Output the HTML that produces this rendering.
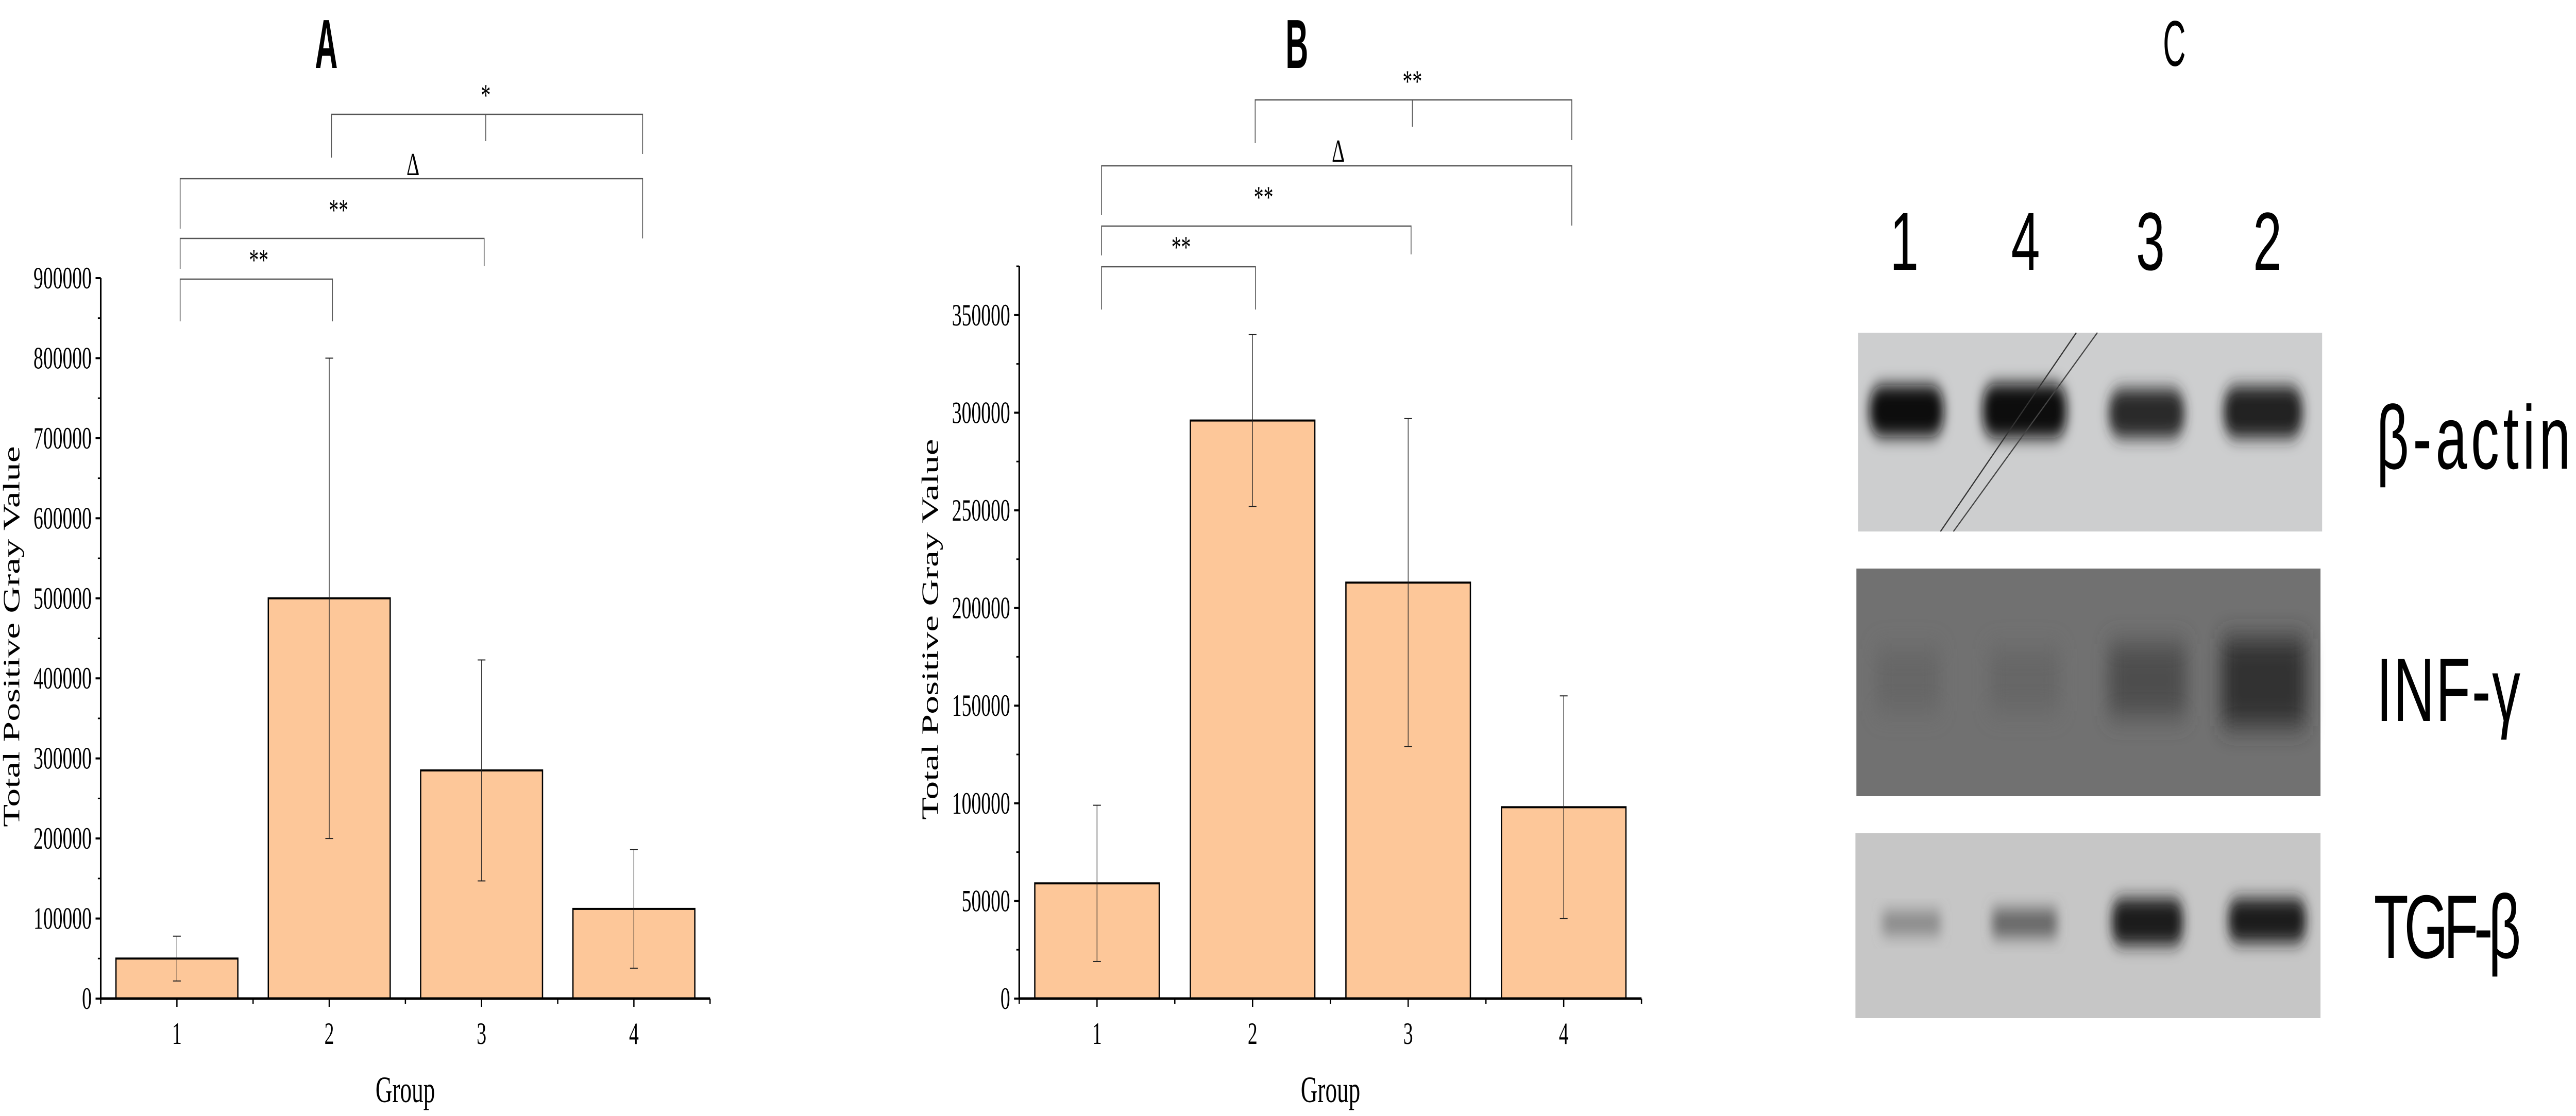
<!DOCTYPE html>
<html><head><meta charset="utf-8"><style>
html,body{margin:0;padding:0;background:#fff;width:7965px;height:2167px;overflow:hidden;}
svg{display:block;position:absolute;left:0;top:0;width:100vw;height:100vh;}
</style></head><body>
<svg id="fig" viewBox="0 0 7965 2167" preserveAspectRatio="none" xmlns="http://www.w3.org/2000/svg">
<defs>
<filter id="blur1" x="-30%" y="-60%" width="160%" height="220%"><feGaussianBlur stdDeviation="16"/></filter>
<filter id="blur2" x="-30%" y="-60%" width="160%" height="220%"><feGaussianBlur stdDeviation="26"/></filter>
</defs>
<g id="chartA"></g>
<g id="chartB"></g>
<g id="panelC">
  <text x="6723" y="128" font-family="Liberation Sans, sans-serif" font-size="125" text-anchor="middle" transform="translate(6723 0) scale(0.78 1) translate(-6723 0)">C</text>
  <text x="5888" y="524" font-family="Liberation Sans, sans-serif" font-size="160" text-anchor="middle">1</text>
  <text x="6263" y="524" font-family="Liberation Sans, sans-serif" font-size="160" text-anchor="middle">4</text>
  <text x="6649" y="524" font-family="Liberation Sans, sans-serif" font-size="160" text-anchor="middle">3</text>
  <text x="7011" y="524" font-family="Liberation Sans, sans-serif" font-size="160" text-anchor="middle">2</text>

  <g>
    <rect x="5745" y="646" width="1435" height="386" fill="#cdcecf"/>
    <rect x="5780" y="748" width="230" height="100" rx="40" fill="#111" filter="url(#blur1)"/>
    <rect x="6130" y="745" width="260" height="105" rx="40" fill="#0e0e0e" filter="url(#blur1)"/>
    <rect x="6520" y="755" width="235" height="95" rx="40" fill="#2a2a2a" filter="url(#blur1)"/>
    <rect x="6875" y="750" width="245" height="100" rx="40" fill="#222" filter="url(#blur1)"/>
    <line x1="6000" y1="1032" x2="6420" y2="646" stroke="#333" stroke-width="3"/>
    <line x1="6040" y1="1032" x2="6485" y2="646" stroke="#444" stroke-width="3"/>
  </g>
  <g>
    <rect x="5740" y="1104" width="1435" height="442" fill="#717171"/>
    <rect x="5800" y="1260" width="200" height="120" fill="#666" filter="url(#blur2)"/>
    <rect x="6150" y="1260" width="220" height="120" fill="#666" filter="url(#blur2)"/>
    <rect x="6520" y="1250" width="240" height="140" fill="#4e4e4e" filter="url(#blur2)"/>
    <rect x="6870" y="1240" width="260" height="170" fill="#333" filter="url(#blur2)"/>
  </g>
  <g>
    <rect x="5737" y="1618" width="1438" height="359" fill="#c6c6c6"/>
    <rect x="5820" y="1770" width="180" height="45" fill="#888" filter="url(#blur1)"/>
    <rect x="6160" y="1765" width="200" height="55" fill="#666" filter="url(#blur1)"/>
    <rect x="6530" y="1745" width="220" height="90" rx="30" fill="#1a1a1a" filter="url(#blur1)"/>
    <rect x="6890" y="1745" width="240" height="85" rx="30" fill="#1a1a1a" filter="url(#blur1)"/>
  </g>
  <text x="7348" y="910" font-family="Liberation Sans, sans-serif" font-size="175" textLength="600" lengthAdjust="spacing">β-actin</text>
  <text x="7348" y="1400" font-family="Liberation Sans, sans-serif" font-size="175" textLength="445" lengthAdjust="spacing">INF-γ</text>
  <text x="7340" y="1860" font-family="Liberation Sans, sans-serif" font-size="175" textLength="455" lengthAdjust="spacing">TGF-β</text>
</g>
</svg>
<script>
const categoriesA = ["1","2","3","4"];
const valuesA = [50000, 500000, 285000, 112000];
const errorsA = [28000, 300000, 138000, 74000];
const yTicksA = [0,100000,200000,300000,400000,500000,600000,700000,800000,900000];
const categoriesB = ["1","2","3","4"];
const valuesB = [59000, 296000, 213000, 98000];
const errorsB = [40000, 44000, 84000, 57000];
const yTicksB = [0,50000,100000,150000,200000,250000,300000,350000];

const NS = "http://www.w3.org/2000/svg";
function mk(parent, tag, attrs){
  const e = document.createElementNS(NS, tag);
  for (const k in attrs) e.setAttribute(k, attrs[k]);
  parent.appendChild(e);
  return e;
}

function drawChart(g, cfg){
  const x = i => cfg.x1 + i*cfg.step;
  const y = v => cfg.y0 - (v/cfg.ymax)*(cfg.y0 - cfg.ytop);
  const xl = cfg.x1 - cfg.step/2, xr = cfg.x1 + (cfg.cats.length-0.5)*cfg.step;
  cfg.vals.forEach((v,i)=>{
    const bw = cfg.step*0.8;
    const r = mk(g,'rect',{x:x(i)-bw/2, y:y(v), width:bw, height:cfg.y0-y(v), fill:'#fdc799', stroke:'#000', 'stroke-width':4});
    
    
  });
  cfg.vals.forEach((v,i)=>{
    const e = cfg.errs[i];
    const eg = mk(g,'g',{stroke:'#222','stroke-width':2});
    
    
    mk(eg,'line',{x1:x(i),x2:x(i),y1:y(v+e),y2:y(v-e)});
    mk(eg,'line',{x1:x(i)-12,x2:x(i)+12,y1:y(v+e),y2:y(v+e)});
    mk(eg,'line',{x1:x(i)-12,x2:x(i)+12,y1:y(v-e),y2:y(v-e)});
  });
  const ax = mk(g,'g',{stroke:'#000','stroke-width':5});
  
  
  mk(ax,'line',{x1:xl,x2:xl,y1:cfg.ytop,y2:cfg.y0+2});
  mk(ax,'line',{x1:xl-2,x2:xr,y1:cfg.y0,y2:cfg.y0});
  cfg.yticks.forEach(t=>{
    mk(ax,'line',{x1:xl-16,x2:xl,y1:y(t),y2:y(t),'stroke-width':4});
    const h = t + cfg.minor;
    if (y(h) >= cfg.ytop - 1) mk(ax,'line',{x1:xl-9,x2:xl,y1:y(h),y2:y(h),'stroke-width':3});
    const lab = mk(g,'text',{x:xl-28,y:y(t)+20,'text-anchor':'end','font-family':'Liberation Serif, serif','font-size':60});
    lab.textContent = String(t);
    
    
  });
  for (let k=0;k<=cfg.cats.length*2;k++){
    const xx = xl + k*cfg.step/2;
    mk(ax,'line',{x1:xx,x2:xx,y1:cfg.y0,y2:cfg.y0+(k%2?16:10),'stroke-width':4});
  }
  cfg.cats.forEach((c,i)=>{
    const lab = mk(g,'text',{x:x(i),y:cfg.y0+88,'text-anchor':'middle','font-family':'Liberation Serif, serif','font-size':60});
    lab.textContent = c;
    
    
  });
  const xt = mk(g,'text',{x:cfg.groupX,y:2140,'text-anchor':'middle','font-family':'Liberation Serif, serif','font-size':72});
  xt.textContent = 'Group';
  
  
  const yt = mk(g,'text',{x:0,y:0,'text-anchor':'middle','font-family':'Liberation Serif, serif','font-size':72,transform:`translate(${cfg.ytX},${cfg.ytY}) rotate(-90)`});
  yt.textContent = 'Total Positive Gray Value';
  
  
  const tt = mk(g,'text',{x:0,y:0,'text-anchor':'middle','font-family':'Liberation Sans, sans-serif','font-weight':'bold','font-size':135,transform:`translate(${cfg.titleX},132) scale(0.72,1)`});
  tt.textContent = cfg.title;
  
  
  cfg.brackets.forEach(b=>{
    const bg = mk(g,'g',{stroke:'#555','stroke-width':2.5,fill:'none'});
    
    
    mk(bg,'polyline',{points:`${b.xa},${b.ya} ${b.xa},${b.y} ${b.xb},${b.y} ${b.xb},${b.yb}`});
    if (b.mid) mk(bg,'line',{x1:b.mid,x2:b.mid,y1:b.y,y2:b.y+52});
    const s = mk(g,'text',{x:b.tx,y:b.ty,'text-anchor':'middle','font-family':'Liberation Serif, serif','font-size':b.t==='Δ'?62:60});
    s.textContent = b.t;
    
    
  });
}

drawChart(document.getElementById('chartA'), {
  cats:categoriesA, vals:valuesA, errs:errorsA, yticks:yTicksA, minor:50000,
  x1:547, step:471, y0:1939, ytop:540, ymax:900000,
  groupX:1253, ytX:60, ytY:1236, titleX:1009, title:'A',
  brackets:[
    {xa:557,xb:1028,y:542,ya:624,yb:624,t:'**',tx:800,ty:525},
    {xa:557,xb:1497,y:463,ya:522,yb:517,t:'**',tx:1047,ty:428},
    {xa:557,xb:1987,y:347,ya:444,yb:463,t:'Δ',tx:1277,ty:340},
    {xa:1025,xb:1987,y:222,ya:306,yb:299,mid:1502,t:'*',tx:1502,ty:205}
  ]
});
drawChart(document.getElementById('chartB'), {
  cats:categoriesB, vals:valuesB, errs:errorsB, yticks:yTicksB, minor:25000,
  x1:3392, step:481, y0:1939, ytop:517, ymax:375000,
  groupX:4114, ytX:2900, ytY:1222, titleX:4010, title:'B',
  brackets:[
    {xa:3406,xb:3882,y:518,ya:601,yb:601,t:'**',tx:3652,ty:500},
    {xa:3406,xb:4363,y:439,ya:496,yb:494,t:'**',tx:3907,ty:403},
    {xa:3406,xb:4860,y:322,ya:417,yb:438,t:'Δ',tx:4138,ty:314},
    {xa:3881,xb:4860,y:194,ya:278,yb:272,mid:4367,t:'**',tx:4367,ty:178}
  ]
});
</script>
</body></html>
